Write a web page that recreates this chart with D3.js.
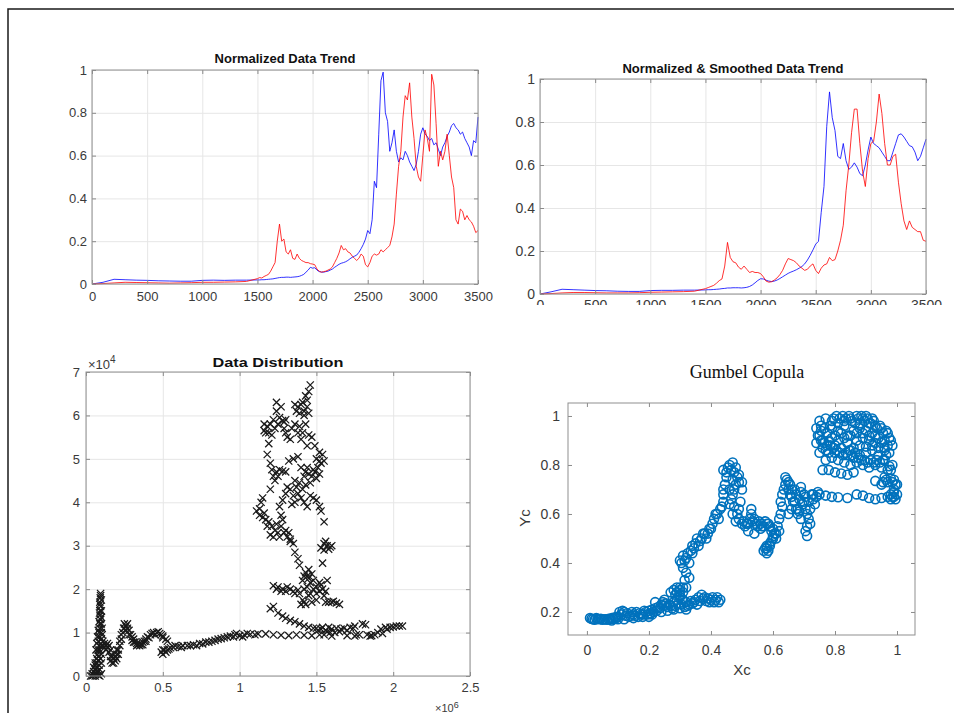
<!DOCTYPE html>
<html>
<head>
<meta charset="utf-8">
<script src="https://cdn.jsdelivr.net/npm/d3@7"></script>
<style>
  body { margin: 0; background: #fff; }
  svg { display: block; font-family: "Liberation Sans", Arial, sans-serif; }
</style>
</head>
<body>
<svg width="955" height="713"></svg>
<script>
// ---- data ----

// raw trend (top left)
var rawIdx = [0,100,200,300,400,500,600,700,800,900,1000,1100,1200,1300,1400,
  1500,1520,1540,1560,1580,1600,1620,1640,1660,1680,1700,1720,1740,1760,1780,
  1800,1820,1840,1860,1880,1900,1920,1940,1960,1980,2000,2020,2040,2060,2080,
  2100,2120,2140,2160,2180,2200,2220,2240,2260,2280,2300,2320,2340,2360,2380,
  2400,2420,2440,2460,2480,2500,2520,2540,2560,2580,2600,2620,2640,2660,2680,
  2700,2720,2740,2760,2780,2800,2820,2840,2860,2880,2900,2920,2940,2960,2980,
  3000,3020,3040,3060,3080,3100,3120,3140,3160,3180,3200,3220,3240,3260,3280,
  3300,3320,3340,3360,3380,3400,3420,3440,3460,3480,3500];
var rawBlue = [0,0.008,0.022,0.02,0.018,0.017,0.015,0.014,0.013,0.013,0.017,0.018,0.017,0.018,0.018,
  0.019,0.019,0.02,0.02,0.021,0.022,0.023,0.024,0.026,0.028,0.03,0.031,0.031,0.032,0.032,
  0.031,0.032,0.033,0.034,0.036,0.04,0.045,0.055,0.065,0.078,0.074,0.076,0.065,0.058,0.056,
  0.055,0.058,0.06,0.065,0.07,0.078,0.085,0.092,0.097,0.1,0.104,0.11,0.118,0.125,0.13,
  0.135,0.148,0.165,0.185,0.21,0.25,0.235,0.3,0.48,0.45,0.7,0.95,0.99,0.8,0.76,
  0.62,0.66,0.72,0.62,0.57,0.59,0.58,0.62,0.6,0.57,0.55,0.53,0.56,0.62,0.7,
  0.73,0.7,0.69,0.67,0.68,0.65,0.66,0.63,0.6,0.64,0.66,0.69,0.71,0.74,0.75,
  0.73,0.72,0.7,0.71,0.68,0.66,0.64,0.6,0.67,0.66,0.78];
var rawRed = [0,0.002,0.005,0.008,0.007,0.006,0.005,0.004,0.005,0.006,0.008,0.008,0.009,0.01,0.012,
  0.025,0.03,0.028,0.035,0.04,0.045,0.06,0.08,0.1,0.2,0.28,0.2,0.21,0.15,0.14,
  0.16,0.12,0.115,0.14,0.12,0.11,0.105,0.1,0.1,0.095,0.093,0.09,0.07,0.06,0.055,
  0.058,0.06,0.065,0.07,0.08,0.1,0.12,0.145,0.18,0.16,0.165,0.15,0.145,0.13,0.12,
  0.11,0.12,0.14,0.13,0.09,0.08,0.1,0.13,0.14,0.135,0.14,0.16,0.15,0.16,0.17,
  0.18,0.22,0.28,0.42,0.55,0.62,0.78,0.88,0.86,0.94,0.78,0.68,0.55,0.5,0.48,
  0.6,0.72,0.68,0.62,0.98,0.93,0.75,0.55,0.62,0.58,0.62,0.7,0.6,0.5,0.45,
  0.3,0.28,0.35,0.34,0.3,0.32,0.3,0.29,0.27,0.24,0.25];

// smoothed trend (top right)
var smIdx = [0,100,200,300,400,500,600,700,800,900,1000,1100,1200,1300,1400,
  1500,1525,1550,1575,1600,1625,1650,1675,1700,1725,1750,1775,1800,1825,1850,1875,
  1900,1925,1950,1975,2000,2025,2050,2075,2100,2125,2150,2175,2200,2225,2250,2275,
  2300,2325,2350,2375,2400,2425,2450,2475,2500,2525,2550,2575,2600,2625,2650,2675,
  2700,2725,2750,2775,2800,2825,2850,2875,2900,2925,2950,2975,3000,3025,3050,3075,
  3100,3125,3150,3175,3200,3225,3250,3275,3300,3325,3350,3375,3400,3425,3450,3475,3500];
var smBlue = [0,0.01,0.022,0.02,0.018,0.016,0.015,0.013,0.012,0.012,0.016,0.017,0.017,0.018,0.018,
  0.019,0.02,0.02,0.021,0.022,0.023,0.025,0.026,0.028,0.028,0.029,0.029,0.029,0.028,0.029,0.031,
  0.035,0.042,0.052,0.063,0.071,0.07,0.064,0.06,0.058,0.06,0.065,0.072,0.08,0.088,0.096,0.102,
  0.107,0.113,0.12,0.128,0.14,0.158,0.18,0.205,0.232,0.245,0.38,0.5,0.78,0.94,0.82,0.76,
  0.64,0.63,0.7,0.62,0.58,0.59,0.61,0.59,0.56,0.55,0.6,0.67,0.73,0.7,0.69,0.68,
  0.66,0.64,0.62,0.62,0.66,0.7,0.74,0.745,0.73,0.71,0.69,0.685,0.66,0.62,0.64,0.68,0.72];
var smRed = [0,0.002,0.005,0.007,0.007,0.006,0.005,0.005,0.005,0.006,0.008,0.009,0.01,0.011,0.013,
  0.025,0.03,0.035,0.04,0.05,0.062,0.07,0.13,0.24,0.17,0.15,0.145,0.125,0.115,0.13,0.115,
  0.1,0.105,0.1,0.1,0.095,0.08,0.06,0.055,0.057,0.065,0.075,0.09,0.11,0.14,0.165,0.16,
  0.155,0.145,0.13,0.12,0.11,0.115,0.13,0.14,0.11,0.095,0.12,0.135,0.14,0.17,0.155,0.16,
  0.2,0.25,0.32,0.48,0.6,0.75,0.86,0.86,0.7,0.57,0.5,0.63,0.7,0.71,0.8,0.93,
  0.84,0.7,0.6,0.6,0.64,0.65,0.52,0.42,0.34,0.3,0.34,0.31,0.3,0.29,0.29,0.25,0.245];

// data distribution (bottom left), x in 1e6, y in 1e4
var distPoints = [
  [0.03,0.0],[0.04,0.0],[0.05,0.02],[0.06,0.0],[0.07,0.05],[0.08,0.02],[0.05,0.1],[0.06,0.15],[0.07,0.2],[0.08,0.12],
  [0.06,0.3],[0.07,0.4],[0.08,0.35],[0.075,0.5],[0.08,0.6],[0.085,0.7],[0.08,0.8],[0.09,0.9],[0.085,1.0],[0.09,1.1],
  [0.09,1.2],[0.095,1.3],[0.09,1.4],[0.092,1.5],[0.095,1.6],[0.09,1.7],[0.093,1.8],[0.095,1.9],[0.1,1.75],[0.1,1.5],
  [0.1,1.2],[0.1,1.0],[0.1,0.85],[0.11,0.7],[0.1,0.5],[0.1,0.3],[0.09,0.15],[0.1,0.05],[0.09,0.0],
  [0.04,0.05],[0.05,0.2],[0.06,0.25],[0.07,0.3],[0.065,0.6],[0.07,0.75],[0.075,0.9],[0.08,1.05],[0.085,1.25],[0.088,1.45],
  [0.09,1.65],[0.095,1.85],[0.1,1.35],[0.105,1.1],[0.105,0.95],[0.11,0.8],[0.12,0.75],[0.095,0.4],[0.085,0.25],[0.07,0.1],
  [0.06,0.05],[0.08,0.45],[0.09,0.6],[0.1,0.7],
  [0.12,0.65],[0.13,0.7],[0.14,0.75],[0.15,0.7],[0.16,0.6],[0.17,0.45],[0.16,0.35],[0.17,0.3],[0.18,0.3],[0.19,0.35],
  [0.2,0.4],[0.21,0.5],[0.2,0.6],[0.22,0.7],[0.23,0.85],[0.24,1.0],[0.245,1.1],[0.25,1.2],[0.26,1.15],[0.27,1.1],
  [0.28,1.05],[0.29,0.95],[0.3,0.9],[0.31,0.85],[0.32,0.78],[0.33,0.75],[0.34,0.72],[0.35,0.7],[0.36,0.72],[0.37,0.78],
  [0.38,0.8],[0.39,0.85],[0.4,0.9],[0.42,0.95],[0.44,1.0],[0.46,1.0],[0.48,0.98],[0.5,0.92],[0.52,0.85],[0.51,0.6],
  [0.49,0.55],[0.5,0.5],[0.53,0.6],[0.55,0.65],[0.58,0.7],[0.6,0.68],[0.63,0.7],[0.66,0.7],[0.7,0.72],[0.74,0.75],
  [0.13,0.6],[0.14,0.65],[0.15,0.55],[0.16,0.45],[0.18,0.4],[0.19,0.45],[0.2,0.5],[0.21,0.6],[0.22,0.8],[0.23,0.95],
  [0.25,1.1],[0.26,1.05],[0.27,1.2],[0.28,0.95],[0.3,0.82],[0.31,0.78],[0.33,0.7],[0.35,0.75],[0.37,0.72],[0.39,0.8],
  [0.41,0.88],[0.43,0.98],[0.45,0.95],[0.47,1.02],[0.49,0.95],[0.5,0.88],[0.53,0.8],[0.52,0.55],[0.5,0.6],[0.54,0.62],
  [0.57,0.66],[0.62,0.66],[0.68,0.7],[0.72,0.7],[0.76,0.74],[0.8,0.78],[0.84,0.82],[0.88,0.86],[0.92,0.9],[0.96,0.9],
  [0.98,0.98],[1.02,0.9],[1.05,0.98],[1.1,0.95],
  [0.78,0.78],[0.82,0.8],[0.86,0.85],[0.9,0.88],[0.94,0.92],[0.97,0.95],[1.0,0.93],[1.03,0.95],[1.07,0.96],[1.12,0.97],
  [1.17,0.97],[1.22,0.95],[1.27,0.94],[1.32,0.93],[1.37,0.95],[1.42,0.94],[1.47,0.93],[1.52,0.95],
  [1.5,1.1],[1.53,1.08],[1.56,1.05],[1.58,1.12],[1.6,1.08],[1.62,1.0],[1.65,1.02],[1.68,1.1],[1.72,1.12],[1.75,1.15],
  [1.78,0.95],[1.8,1.2],[1.83,0.95],[1.86,0.93],[1.9,1.0],[1.92,1.08],[1.95,1.12],[1.98,1.12],[2.02,1.15],[2.06,1.15],
  [1.51,1.05],[1.54,1.12],[1.57,1.02],[1.59,1.0],[1.63,1.1],[1.66,1.08],[1.7,1.05],[1.74,1.1],[1.76,0.95],[1.82,1.18],
  [1.88,0.95],[1.93,0.98],[1.96,1.08],[2.0,1.13],[2.04,1.15],[1.55,0.95],[1.6,0.92],[1.7,0.93],[1.75,0.92],[1.85,0.92],
  [1.2,1.55],[1.22,1.6],[1.25,1.45],[1.28,1.38],[1.3,1.33],[1.33,1.28],[1.36,1.25],[1.39,1.2],[1.42,1.15],[1.45,1.12],[1.48,1.1],
  [1.22,2.08],[1.25,2.05],[1.28,2.0],[1.3,1.95],[1.33,2.0],[1.36,1.9],[1.38,1.98],[1.4,1.65],[1.42,1.7],[1.41,2.2],
  [1.44,2.3],[1.45,2.45],[1.43,2.38],[1.46,2.15],[1.48,2.0],[1.5,2.05],[1.52,1.95],[1.53,2.1],[1.55,1.85],[1.57,2.2],
  [1.56,1.7],[1.6,1.7],[1.63,1.68],[1.5,1.75],[1.47,1.7],[1.45,1.85],[1.39,2.55],[1.38,2.7],[1.36,2.85],[1.35,3.05],[1.33,3.15],
  [1.24,2.0],[1.27,1.95],[1.31,2.05],[1.35,1.95],[1.39,1.9],[1.41,1.75],[1.43,1.65],[1.42,2.0],[1.44,2.05],[1.46,1.9],
  [1.48,2.2],[1.5,1.9],[1.52,2.15],[1.47,2.35],[1.42,2.3],[1.45,2.25],[1.54,2.0],[1.56,1.95],[1.58,1.7],[1.61,1.72],[1.65,1.65],
  [1.54,2.6],[1.53,2.95],[1.55,3.05],[1.57,3.0],[1.59,2.97],[1.55,3.55],[1.53,3.8],[1.52,3.9],[1.5,4.05],[1.48,4.1],[1.46,4.15],
  [1.56,3.1],[1.58,2.92],[1.6,3.0],[1.55,2.9],
  [1.11,3.8],[1.13,3.7],[1.15,3.65],[1.17,3.6],[1.19,3.55],[1.21,3.45],[1.23,3.35],[1.25,3.3],[1.2,3.25],[1.22,3.2],
  [1.27,3.45],[1.28,3.6],[1.3,3.35],[1.31,3.2],[1.33,3.1],[1.27,3.7],[1.26,3.9],[1.28,4.05],[1.3,4.2],[1.31,4.35],
  [1.33,4.3],[1.35,4.15],[1.36,4.0],[1.34,3.95],[1.37,4.35],[1.39,4.45],[1.41,4.3],[1.43,4.4],[1.42,4.0],[1.44,3.9],
  [1.13,3.85],[1.16,3.75],[1.18,3.45],[1.24,3.5],[1.26,3.2],[1.29,3.3],[1.32,3.3],[1.23,4.5],[1.21,4.75],[1.25,4.6],
  [1.38,4.2],[1.4,4.1],[1.36,4.5],[1.42,4.6],[1.44,4.8],[1.46,4.45],[1.48,4.75],[1.5,4.55],[1.52,4.65],
  [1.15,4.1],[1.14,4.0],[1.2,4.3],[1.22,4.6],[1.24,4.7],[1.26,4.75],[1.28,4.72],[1.3,4.7],[1.32,4.95],[1.35,5.0],
  [1.38,5.05],[1.4,4.8],[1.43,4.7],[1.45,4.65],[1.47,4.6],[1.49,4.7],[1.51,4.8],[1.53,4.9],[1.55,4.95],[1.54,5.1],
  [1.52,5.15],[1.49,5.3],[1.47,5.5],[1.45,5.55],[1.2,4.9],[1.18,5.1],[1.19,5.35],[1.17,5.6],[1.16,5.8],[1.19,5.6],
  [1.21,5.55],[1.23,5.7],[1.22,5.9],[1.24,6.1],[1.24,6.3],[1.26,5.95],[1.28,5.88],[1.29,5.7],[1.3,5.6],[1.31,5.5],
  [1.33,5.45],[1.34,5.7],[1.36,5.8],[1.37,6.1],[1.38,6.2],[1.4,6.25],[1.42,6.1],[1.44,6.2],[1.45,6.05],[1.43,6.45],
  [1.45,6.55],[1.46,6.7],[1.39,5.75],[1.4,5.45],
  [1.18,5.75],[1.2,5.8],[1.16,5.65],[1.25,5.8],[1.27,6.2],[1.29,5.85],[1.3,5.9],[1.39,6.05],[1.41,6.3],[1.42,6.0],
  [1.43,5.8],[1.38,5.6],[1.41,5.6],[1.44,5.3],[1.5,5.0],[1.52,4.95],[1.36,6.25],[1.44,6.35]
];

// Gumbel copula (bottom right)
var copulaPoints = [
  [0.01,0.175],[0.02,0.17],[0.03,0.175],[0.04,0.17],[0.05,0.168],[0.06,0.17],[0.07,0.172],[0.08,0.175],[0.09,0.178],[0.1,0.18],
  [0.11,0.19],[0.12,0.2],[0.13,0.195],[0.14,0.185],[0.15,0.19],[0.16,0.2],[0.17,0.195],[0.18,0.19],[0.19,0.2],[0.2,0.205],
  [0.21,0.21],[0.22,0.215],[0.23,0.22],[0.24,0.23],[0.25,0.225],[0.26,0.22],[0.27,0.225],[0.28,0.24],[0.29,0.25],[0.3,0.26],
  [0.31,0.25],[0.32,0.24],[0.33,0.23],[0.34,0.235],[0.35,0.25],[0.36,0.26],[0.37,0.27],[0.38,0.26],[0.39,0.255],[0.4,0.25],
  [0.41,0.24],[0.42,0.26],[0.43,0.25],[0.12,0.17],[0.15,0.175],[0.18,0.18],[0.21,0.19],[0.24,0.2],[0.26,0.205],[0.28,0.21],
  [0.3,0.215],[0.32,0.21],[0.27,0.28],[0.28,0.29],[0.29,0.3],[0.3,0.29],[0.31,0.28],[0.25,0.25],[0.22,0.24],[0.2,0.18],
  [0.08,0.165],[0.1,0.17],
  [0.015,0.172],[0.025,0.168],[0.035,0.172],[0.045,0.172],[0.055,0.17],[0.065,0.168],[0.075,0.17],[0.085,0.172],[0.095,0.175],[0.105,0.2],
  [0.115,0.205],[0.125,0.185],[0.135,0.18],[0.145,0.2],[0.155,0.185],[0.165,0.18],[0.175,0.19],[0.185,0.205],[0.195,0.19],[0.205,0.195],
  [0.215,0.2],[0.225,0.205],[0.235,0.215],[0.245,0.24],[0.255,0.235],[0.265,0.23],[0.275,0.215],[0.285,0.225],[0.295,0.235],[0.305,0.23],
  [0.315,0.22],[0.325,0.225],[0.335,0.245],[0.345,0.24],[0.355,0.23],[0.365,0.245],[0.375,0.255],[0.385,0.245],[0.395,0.24],[0.405,0.26],
  [0.415,0.25],[0.425,0.24],[0.29,0.28],[0.3,0.3],[0.285,0.27],[0.31,0.3],[0.3,0.27],
  [0.32,0.3],[0.33,0.34],[0.31,0.38],[0.3,0.41],[0.31,0.43],[0.32,0.42],[0.33,0.4],[0.34,0.44],[0.34,0.47],[0.35,0.48],
  [0.36,0.47],[0.37,0.5],[0.38,0.52],[0.39,0.52],[0.4,0.54],[0.41,0.58],[0.42,0.6],[0.43,0.62],[0.44,0.65],[0.44,0.7],
  [0.45,0.75],[0.44,0.78],[0.46,0.8],[0.47,0.81],[0.48,0.79],[0.49,0.76],[0.48,0.72],[0.47,0.68],[0.46,0.64],[0.47,0.6],
  [0.48,0.57],[0.49,0.62],[0.5,0.7],[0.49,0.73],[0.47,0.74],[0.46,0.7],
  [0.315,0.33],[0.32,0.36],[0.305,0.4],[0.315,0.41],[0.325,0.44],[0.335,0.45],[0.345,0.46],[0.355,0.5],[0.365,0.49],[0.375,0.52],
  [0.385,0.5],[0.395,0.54],[0.405,0.56],[0.415,0.6],[0.425,0.58],[0.435,0.63],[0.44,0.68],[0.445,0.72],[0.45,0.77],[0.455,0.79],
  [0.465,0.78],[0.475,0.77],[0.485,0.75],[0.475,0.7],[0.465,0.66],[0.475,0.63],[0.485,0.6],[0.49,0.58],[0.495,0.65],[0.5,0.73],
  [0.5,0.56],[0.51,0.55],[0.52,0.56],[0.53,0.6],[0.53,0.62],[0.54,0.58],[0.55,0.55],[0.56,0.54],[0.57,0.55],[0.58,0.56],
  [0.59,0.55],[0.6,0.54],[0.61,0.52],[0.6,0.5],[0.59,0.48],[0.58,0.46],[0.57,0.45],[0.58,0.44],[0.59,0.47],[0.61,0.5],
  [0.62,0.53],[0.52,0.53],[0.54,0.52],[0.56,0.56],
  [0.505,0.57],[0.515,0.56],[0.525,0.58],[0.535,0.57],[0.545,0.56],[0.555,0.57],[0.565,0.55],[0.575,0.57],[0.585,0.56],[0.595,0.53],
  [0.605,0.52],[0.575,0.46],[0.585,0.45],[0.58,0.47],[0.595,0.49],[0.6,0.51],[0.615,0.55],
  [0.62,0.58],[0.63,0.63],[0.63,0.68],[0.64,0.72],[0.64,0.75],[0.65,0.73],[0.65,0.7],[0.66,0.67],[0.67,0.65],[0.68,0.62],
  [0.68,0.6],[0.69,0.58],[0.67,0.7],[0.69,0.69],[0.7,0.68],[0.7,0.65],[0.71,0.6],[0.71,0.55],[0.71,0.51],[0.72,0.56],
  [0.72,0.62],[0.73,0.66],[0.73,0.68],[0.74,0.67],[0.75,0.68],[0.66,0.62],[0.65,0.6],
  [0.625,0.6],[0.625,0.65],[0.635,0.7],[0.645,0.74],[0.655,0.72],[0.655,0.68],[0.665,0.65],[0.675,0.68],[0.685,0.66],[0.675,0.62],
  [0.685,0.61],[0.695,0.64],[0.705,0.67],[0.705,0.62],[0.715,0.58],[0.705,0.53],[0.715,0.65],[0.725,0.68],[0.735,0.64],[0.745,0.69],
  [0.69,0.71],[0.66,0.7],
  [0.77,0.675],[0.79,0.67],[0.81,0.668],[0.84,0.665],[0.87,0.68],[0.89,0.675],[0.91,0.665],[0.93,0.66],[0.95,0.665],[0.97,0.67],
  [0.98,0.66],[0.99,0.67],[1.0,0.68],[0.99,0.7],[1.0,0.72],[0.99,0.74],[0.98,0.745],[0.97,0.73],[0.95,0.72],[0.93,0.735],[0.96,0.75],
  [0.955,0.73],[0.965,0.74],[0.985,0.73],[0.995,0.72],[0.99,0.69],[0.98,0.68],[0.995,0.66],[0.985,0.67],
  [0.76,0.78],[0.78,0.78],[0.8,0.77],[0.82,0.765],[0.84,0.76],[0.86,0.77],[0.77,0.82],[0.79,0.83],[0.81,0.82],[0.83,0.81],
  [0.85,0.8],[0.87,0.81],[0.89,0.8],[0.91,0.79],[0.93,0.8],[0.95,0.79],[0.97,0.78],[0.96,0.82],[0.94,0.84],[0.92,0.86],
  [0.9,0.85],[0.88,0.84],[0.86,0.83],[0.84,0.84],[0.85,0.86],[0.86,0.87],[0.88,0.88],[0.9,0.875],[0.92,0.88],[0.94,0.87],
  [0.96,0.86],[0.97,0.88],[0.98,0.9],[0.97,0.93],[0.95,0.95],[0.93,0.96],[0.91,0.97],[0.89,0.99],[0.87,1.0],[0.85,0.99],
  [0.83,0.98],[0.81,0.97],[0.79,0.98],[0.77,0.99],[0.75,0.98],[0.74,0.95],[0.75,0.92],[0.74,0.89],[0.76,0.87],[0.75,0.85],
  [0.77,0.86],[0.78,0.9],[0.8,0.92],[0.82,0.93],[0.84,0.92],[0.86,0.94],[0.88,0.95],[0.9,0.94],[0.92,0.93],[0.94,0.91],
  [0.96,0.9],[0.8,0.88],[0.82,0.87],[0.84,0.89],[0.88,0.97],[0.9,1.0],[0.92,0.99],[0.79,0.95],[0.81,0.94],[0.83,0.96],
  [0.76,0.9],[0.78,0.85],[0.8,0.85],[0.89,0.91],[0.91,0.9],[0.93,0.89],[0.87,0.9],
  [0.755,0.96],[0.765,0.95],[0.775,0.93],[0.785,0.96],[0.795,0.99],[0.805,1.0],[0.815,0.99],[0.825,1.0],[0.835,0.99],[0.845,1.0],
  [0.855,0.98],[0.865,0.97],[0.875,0.99],[0.885,1.0],[0.895,0.98],[0.905,0.99],[0.915,0.97],[0.925,0.98],[0.935,0.95],[0.945,0.96],
  [0.955,0.93],[0.965,0.94],[0.975,0.91],[0.985,0.88],[0.975,0.85],[0.965,0.84],[0.955,0.82],[0.945,0.81],[0.935,0.82],[0.925,0.81],
  [0.915,0.82],[0.905,0.81],[0.895,0.82],[0.885,0.82],[0.875,0.83],[0.865,0.85],[0.855,0.84],[0.845,0.86],[0.835,0.85],[0.825,0.84],
  [0.815,0.85],[0.805,0.86],[0.795,0.87],[0.785,0.88],[0.775,0.88],[0.765,0.89],[0.755,0.9],[0.745,0.92],[0.755,0.94],[0.79,0.91],
  [0.81,0.9],[0.83,0.91],[0.85,0.92],[0.87,0.93],[0.89,0.93],[0.91,0.92],[0.93,0.92],[0.95,0.89],[0.96,0.87],[0.98,0.78],
  [0.975,0.795],[0.985,0.8]
];

// tick values
var trendXTicks = [0,500,1000,1500,2000,2500,3000,3500];
var trendYTicks = [0,0.2,0.4,0.6,0.8,1];
var distXTicks = [0,0.5,1,1.5,2,2.5];
var distYTicks = [0,1,2,3,4,5,6,7];
var copXTicks = [0,0.2,0.4,0.6,0.8,1];
var copYTicks = [0.2,0.4,0.6,0.8,1];

var svg = d3.select('svg');
var fmt = d3.format('~g');

// outer frame (top and left edges visible)
svg.append('path')
  .attr('d', 'M8,713V9H954')
  .attr('fill', 'none')
  .attr('stroke', '#1a1a1a')
  .attr('stroke-width', 1.5);

// one panel: grid layer, mark layer, axes layer
function panel(p) {
  var x = d3.scaleLinear().domain(p.xd).range([p.x0, p.x1]);
  var y = d3.scaleLinear().domain(p.yd).range([p.y1, p.y0]);
  var w = p.x1 - p.x0, h = p.y1 - p.y0;
  var gridG = svg.append('g');
  var markG = svg.append('g');
  var axisG = svg.append('g');

  if (p.grid) {
    gridG.append('g')
      .attr('transform', 'translate(0,' + p.y1 + ')')
      .call(d3.axisBottom(x).tickValues(p.xt).tickSize(-h).tickFormat(''))
      .call(function(s) { s.select('.domain').remove(); });
    gridG.append('g')
      .attr('transform', 'translate(' + p.x0 + ',0)')
      .call(d3.axisLeft(y).tickValues(p.yt).tickSize(-w).tickFormat(''))
      .call(function(s) { s.select('.domain').remove(); });
    gridG.selectAll('line').attr('stroke', '#e6e6e6');
  }

  // bottom & left with labels, top & right ticks only
  axisG.append('g')
    .attr('transform', 'translate(0,' + p.y1 + ')')
    .call(d3.axisBottom(x).tickValues(p.xt).tickSize(-4).tickPadding(p.xpad).tickFormat(fmt));
  axisG.append('g')
    .attr('transform', 'translate(' + p.x0 + ',0)')
    .call(d3.axisLeft(y).tickValues(p.yt).tickSize(-4).tickPadding(p.ypad).tickFormat(fmt));
  axisG.append('g')
    .attr('transform', 'translate(0,' + p.y0 + ')')
    .call(d3.axisTop(x).tickValues(p.xt).tickSize(-4).tickFormat(''));
  axisG.append('g')
    .attr('transform', 'translate(' + p.x1 + ',0)')
    .call(d3.axisRight(y).tickValues(p.yt).tickSize(-4).tickFormat(''));
  axisG.selectAll('.domain').remove();
  axisG.selectAll('.tick line').attr('stroke', '#8a8a8a');
  axisG.selectAll('text')
    .attr('fill', '#3a3a3a')
    .style('font-size', p.fs + 'px')
    .style('font-family', '"Liberation Sans", Arial, sans-serif');
  axisG.append('rect')
    .attr('x', p.x0).attr('y', p.y0)
    .attr('width', w).attr('height', h)
    .attr('fill', 'none')
    .attr('stroke', '#8f8f8f')
    .attr('stroke-width', 1);

  return { x: x, y: y, marks: markG, axes: axisG };
}

function drawLine(pn, idx, vals, color) {
  var line = d3.line()
    .x(function(d, i) { return pn.x(idx[i]); })
    .y(function(d) { return pn.y(d); });
  pn.marks.append('path')
    .datum(vals)
    .attr('d', line)
    .attr('fill', 'none')
    .attr('stroke', color)
    .attr('stroke-opacity', 0.8)
    .attr('stroke-width', 1);
}

function title(txt, cx, by, size, opts) {
  var t = svg.append('text')
    .attr('x', cx).attr('y', by)
    .attr('text-anchor', 'middle')
    .style('font-size', size + 'px')
    .attr('fill', '#111')
    .text(txt);
  if (opts && opts.serif) t.style('font-family', '"Liberation Serif", "Times New Roman", serif');
  else t.style('font-weight', 'bold');
  return t;
}

// ---- top left ----
var p1 = panel({ x0: 92, x1: 478, y0: 70, y1: 284, xd: [0, 3500], yd: [0, 1],
  xt: trendXTicks, yt: trendYTicks, grid: true, fs: 13, xpad: 8, ypad: 5 });
drawLine(p1, rawIdx, rawBlue, '#0000ff');
drawLine(p1, rawIdx, rawRed, '#ff0000');
title('Normalized Data Trend', 285, 63, 13);

// ---- top right ----
var p2 = panel({ x0: 540, x1: 926, y0: 79, y1: 294, xd: [0, 3500], yd: [0, 1],
  xt: trendXTicks, yt: trendYTicks, grid: true, fs: 14, xpad: 6, ypad: 5 });
drawLine(p2, smIdx, smBlue, '#0000ff');
drawLine(p2, smIdx, smRed, '#ff0000');
title('Normalized & Smoothed Data Trend', 733, 73, 13);
// picture is cropped just under this panel's tick labels
svg.append('rect').attr('x', 495).attr('y', 305).attr('width', 460).attr('height', 40).attr('fill', '#fff');

// ---- bottom left ----
var p3 = panel({ x0: 86, x1: 470, y0: 372, y1: 676, xd: [0, 2.5], yd: [0, 7],
  xt: distXTicks, yt: distYTicks, grid: true, fs: 13, xpad: 7, ypad: 6 });
p3.marks.selectAll('path.pt')
  .data(distPoints)
  .enter().append('path')
  .attr('class', 'pt')
  .attr('transform', function(d) { return 'translate(' + p3.x(d[0]) + ',' + p3.y(d[1]) + ')'; })
  .attr('d', 'M-3.6,-3.6L3.6,3.6M-3.6,3.6L3.6,-3.6')
  .attr('stroke', '#1a1a1a')
  .attr('stroke-width', 1.25);
title('Data Distribution', 278, 367, 13).attr('textLength', 131).attr('lengthAdjust', 'spacingAndGlyphs');
var e4 = svg.append('text').attr('x', 88).attr('y', 369).attr('fill', '#3a3a3a').style('font-size', '13px');
e4.append('tspan').text('\u00d710');
e4.append('tspan').attr('dy', -6).style('font-size', '10px').text('4');
var e6 = svg.append('text').attr('x', 435).attr('y', 712).attr('fill', '#3a3a3a').style('font-size', '11px');
e6.append('tspan').text('\u00d710');
e6.append('tspan').attr('dy', -4).style('font-size', '9px').text('6');

// ---- bottom right ----
var p4 = panel({ x0: 568, x1: 915, y0: 403, y1: 635, xd: [-0.061, 1.058], yd: [0.106, 1.053],
  xt: copXTicks, yt: copYTicks, grid: false, fs: 14, xpad: 10, ypad: 8 });
p4.marks.selectAll('circle')
  .data(copulaPoints)
  .enter().append('circle')
  .attr('cx', function(d) { return p4.x(d[0]); })
  .attr('cy', function(d) { return p4.y(d[1]); })
  .attr('r', 4.5)
  .attr('fill', 'none')
  .attr('stroke', '#0072bd')
  .attr('stroke-width', 1.6);
title('Gumbel Copula', 747, 378, 18, { serif: true });
svg.append('text').attr('x', 742).attr('y', 675).attr('text-anchor', 'middle')
  .attr('fill', '#3a3a3a').style('font-size', '15px').text('Xc');
svg.append('text').attr('transform', 'translate(530,518) rotate(-90)').attr('text-anchor', 'middle')
  .attr('fill', '#3a3a3a').style('font-size', '15px').text('Yc');
</script>
</body>
</html>
